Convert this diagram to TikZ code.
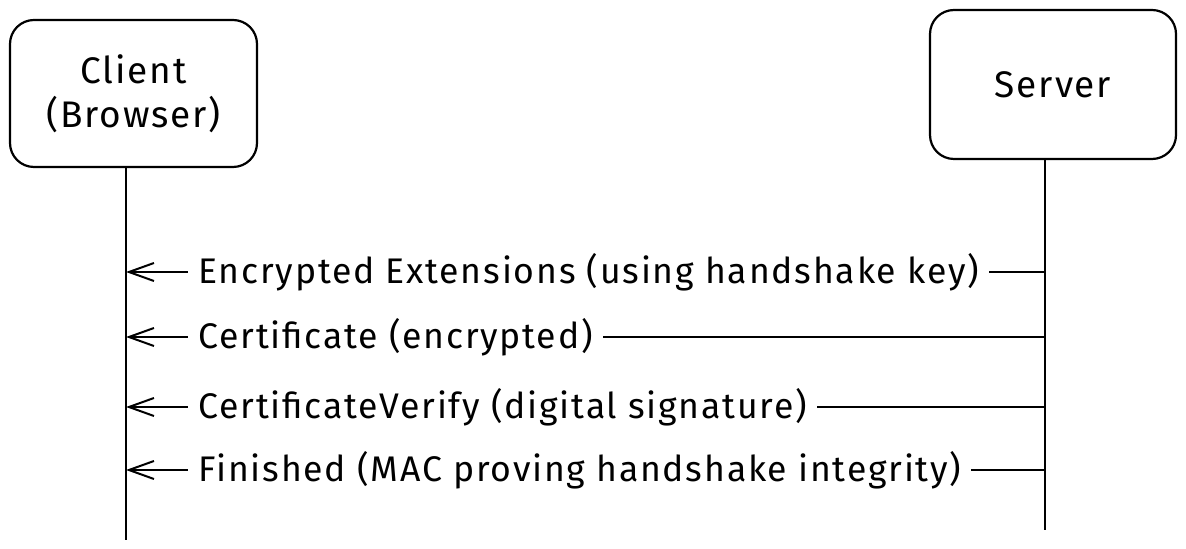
\documentclass[tikz,border=0pt]{standalone}
\usepackage{fontspec}
\setmainfont{Fira Sans}[LetterSpace=5]
\usetikzlibrary{arrows.meta}
\tikzset{
	party/.style={draw=black, line width=1.1pt, rounded corners=12pt, fill=white,
		align=center, font=\fontsize{18.5}{22}\selectfont},
	lifeline/.style={line width=1.3pt},
	msgline/.style={line width=1.3pt, {Straight Barb[length=12.5pt, width=9pt, line width=1pt]}-},
	msgtext/.style={fill=white, anchor=west, inner xsep=5pt, inner ysep=2pt,
		font=\fontsize{17.8}{20}\selectfont}
}
\begin{document}
\begin{tikzpicture}[x=0.5pt, y=-0.5pt]
	\useasboundingbox (0,0) rectangle (1186,549);
	% Teilnehmer
	\node[party, minimum width=123.5pt, minimum height=73.5pt] (client) at (133.5,93.5)
		{Client\\(Browser)};
	\node[party, minimum width=123pt, minimum height=74.5pt] (server) at (1053,84.5)
		{Server};
	% Lebenslinien
	\coordinate (clientend) at (126,540);
	\coordinate (serverend) at (1045,530);
	\draw[lifeline] (clientend |- client.south) -- (clientend);
	\draw[lifeline] (serverend |- server.south) -- (serverend);
	% Nachrichten
	\foreach \y/\txt [count=\i] in {272/{Encrypted Extensions (using handshake key)},
		337/{Certificate (encrypted)},
		407/{CertificateVerify (digital signature)},
		470/{Finished (MAC proving handshake integrity)}} {
		\coordinate (from\i) at (1045,\y);
		\coordinate (to\i) at (126,\y);
		\draw[msgline] (to\i) -- (from\i);
		\node[msgtext] (msg\i) at (188,\y) {\txt};
	}
\end{tikzpicture}
\end{document}
